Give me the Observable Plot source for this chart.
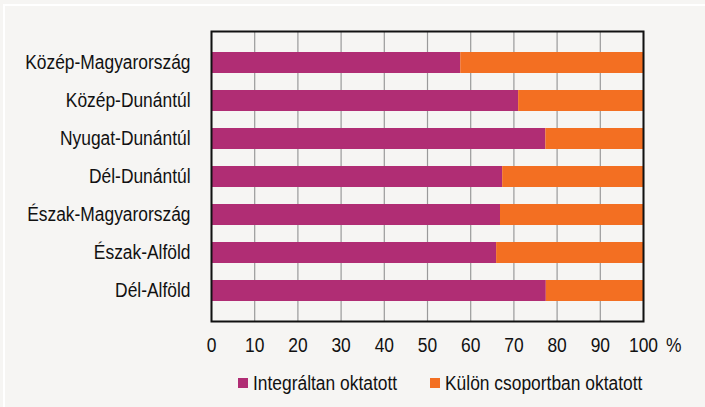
<!DOCTYPE html>
<html>
<head>
<meta charset="utf-8">
<script src="https://cdn.jsdelivr.net/npm/d3@7"></script>
<script src="https://cdn.jsdelivr.net/npm/@observablehq/plot@0.6"></script>
<style>
  html, body { margin: 0; padding: 0; background: #f6f5f3; width: 705px; height: 407px; overflow: hidden; }
  #wrap { position: relative; width: 705px; height: 407px; font-family: "Liberation Sans", Arial, sans-serif; }
  #border { position: absolute; left: 3px; top: 4px; width: 720px; height: 420px; border-left: 2px solid #fff; border-top: 2px solid #fff; box-sizing: border-box; }
  #chart { position: absolute; left: 0; top: 0; }
  #legend { position: absolute; top: 371px; left: 0; width: 705px; height: 24px; font-size: 20px; color: #111; }
  .item { position: absolute; top: 0; display: flex; align-items: center; height: 24px; }
  .sw { width: 10px; height: 10px; margin-right: 5px; flex: none; }
  .lt { display: inline-block; transform: scaleX(0.87); transform-origin: 0 50%; white-space: nowrap; }
</style>
</head>
<body>
<div id="wrap">
  <div id="border"></div>
  <div id="chart"></div>
  <div id="legend"></div>
</div>
<script>
const regions = ["Közép-Magyarország", "Közép-Dunántúl", "Nyugat-Dunántúl", "Dél-Dunántúl", "Észak-Magyarország", "Észak-Alföld", "Dél-Alföld"];
const seriesNames = ["Integráltan oktatott", "Külön csoportban oktatott"];
const integralt = [57.7, 71.1, 77.4, 67.4, 66.9, 66.0, 77.5];
const kulon = integralt.map(v => 100 - v);
const xTicks = [0, 10, 20, 30, 40, 50, 60, 70, 80, 90, 100];
const colors = ["#b02d74", "#f36f22"];
const narrow = 0.87;

const data = [];
regions.forEach((r, i) => {
  data.push({region: r, series: seriesNames[0], value: integralt[i]});
  data.push({region: r, series: seriesNames[1], value: kulon[i]});
});

const chart = Plot.plot({
  width: 705,
  height: 362,
  marginLeft: 211,
  marginRight: 62,
  marginTop: 31,
  marginBottom: 41,
  style: {background: "transparent", fontFamily: "'Liberation Sans', Arial, sans-serif", fontSize: "20px", color: "#111"},
  x: {domain: [0, 100], ticks: xTicks, tickSize: 0, tickPadding: 16, label: null},
  y: {domain: regions, padding: 0.45, tickSize: 0, tickPadding: 21, label: null},
  color: {domain: seriesNames, range: colors},
  marks: [
    Plot.ruleX(xTicks, {stroke: "#9a9a9a", strokeWidth: 1.2}),
    Plot.barX(data, Plot.stackX({x: "value", y: "region", fill: "series", order: seriesNames})),
    Plot.frame({stroke: "#111", strokeWidth: 2}),
    Plot.text(["%"], {frameAnchor: "bottom-right", dx: 38, dy: 30, fontSize: 20, fill: "#111"})
  ]
});
document.getElementById("chart").appendChild(chart);

// condense text horizontally (Arial Narrow look)
chart.querySelectorAll("text").forEach(t => {
  const b = t.getBBox();
  let anchor = t.getAttribute("text-anchor");
  let p = t.parentNode;
  while (!anchor && p && p.getAttribute) { anchor = p.getAttribute("text-anchor"); p = p.parentNode; }
  const ax = anchor === "end" ? b.x + b.width : anchor === "middle" ? b.x + b.width / 2 : b.x;
  const tr = t.getAttribute("transform") || "";
  t.setAttribute("transform", `${tr} translate(${ax},0) scale(${narrow},1) translate(${-ax},0)`);
});

const legend = document.getElementById("legend");
const lx = [238, 430];
seriesNames.forEach((s, i) => {
  const it = document.createElement("div");
  it.className = "item";
  it.style.left = lx[i] + "px";
  const sw = document.createElement("div");
  sw.className = "sw";
  sw.style.background = colors[i];
  const tx = document.createElement("span");
  tx.className = "lt";
  tx.textContent = s;
  it.appendChild(sw);
  it.appendChild(tx);
  legend.appendChild(it);
});
</script>
</body>
</html>
